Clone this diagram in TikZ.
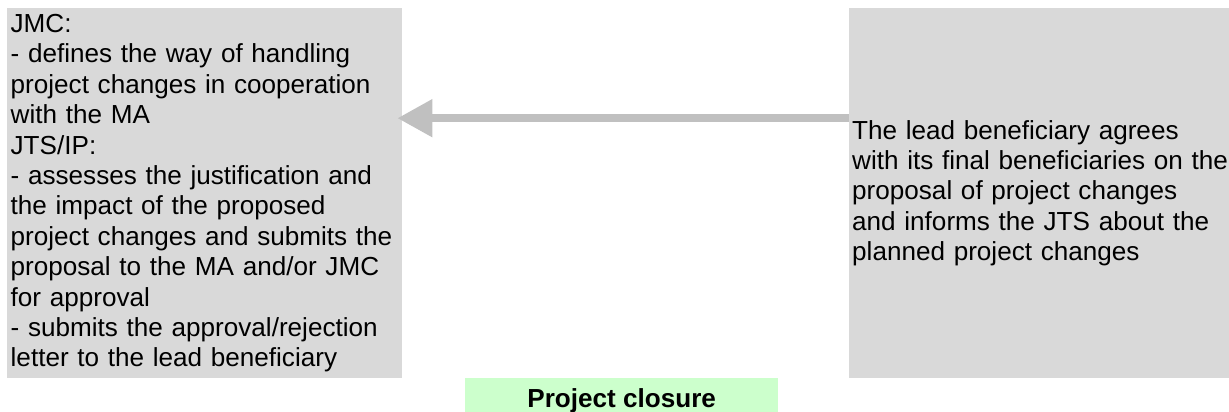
\documentclass[tikz,border=0pt]{standalone}
\usepackage{fontspec}
\setmainfont{Liberation Sans}
\usetikzlibrary{arrows.meta}
\definecolor{boxgray}{HTML}{D9D9D9}
\definecolor{arrgray}{HTML}{C0C0C0}
\definecolor{boxgreen}{HTML}{CCFFCC}
\tikzstyle{boxl}=[rectangle,fill=boxgray,align=left,anchor=north west,minimum height=370pt,inner ysep=0pt,font=\fontsize{26.1}{30.4}\selectfont]
\tikzstyle{boxc}=[rectangle,fill=boxgreen,anchor=north west,minimum width=313pt,minimum height=34pt,text height=24pt,text depth=0pt,inner sep=0pt,font=\fontsize{26.1}{30.4}\selectfont\bfseries]
\tikzstyle{arrowg}=[draw=arrgray,line width=8pt,-{Triangle[length=35pt,width=36pt]}]

\begin{document}
\begin{tikzpicture}[x=1pt,y=1pt]
    \useasboundingbox (0,0) rectangle (1229,-412);
    \node[boxl,text width=388pt,inner xsep=3.5pt] (jmc) at (7,-8)
        {JMC:\\- defines the way of handling\\project changes in cooperation\\with the MA\\JTS/IP:\\- assesses the justification and\\the impact of the proposed\\project changes and submits the\\proposal to the MA and/or JMC\\for approval\\- submits the approval/rejection\\letter to the lead beneficiary};
    \node[boxl,text width=374pt,inner xsep=3pt] (lead) at (849,-8)
        {The lead beneficiary agrees\\\mbox{with its final beneficiaries on the}\\proposal of project changes\\and informs the JTS about the\\planned project changes};
    \node[boxc] (closure) at (465,-378) {Project closure};

    \draw[arrowg] ([yshift=75pt]lead.west) -- ([xshift=-5pt,yshift=75pt]jmc.east);
\end{tikzpicture}
\end{document}
